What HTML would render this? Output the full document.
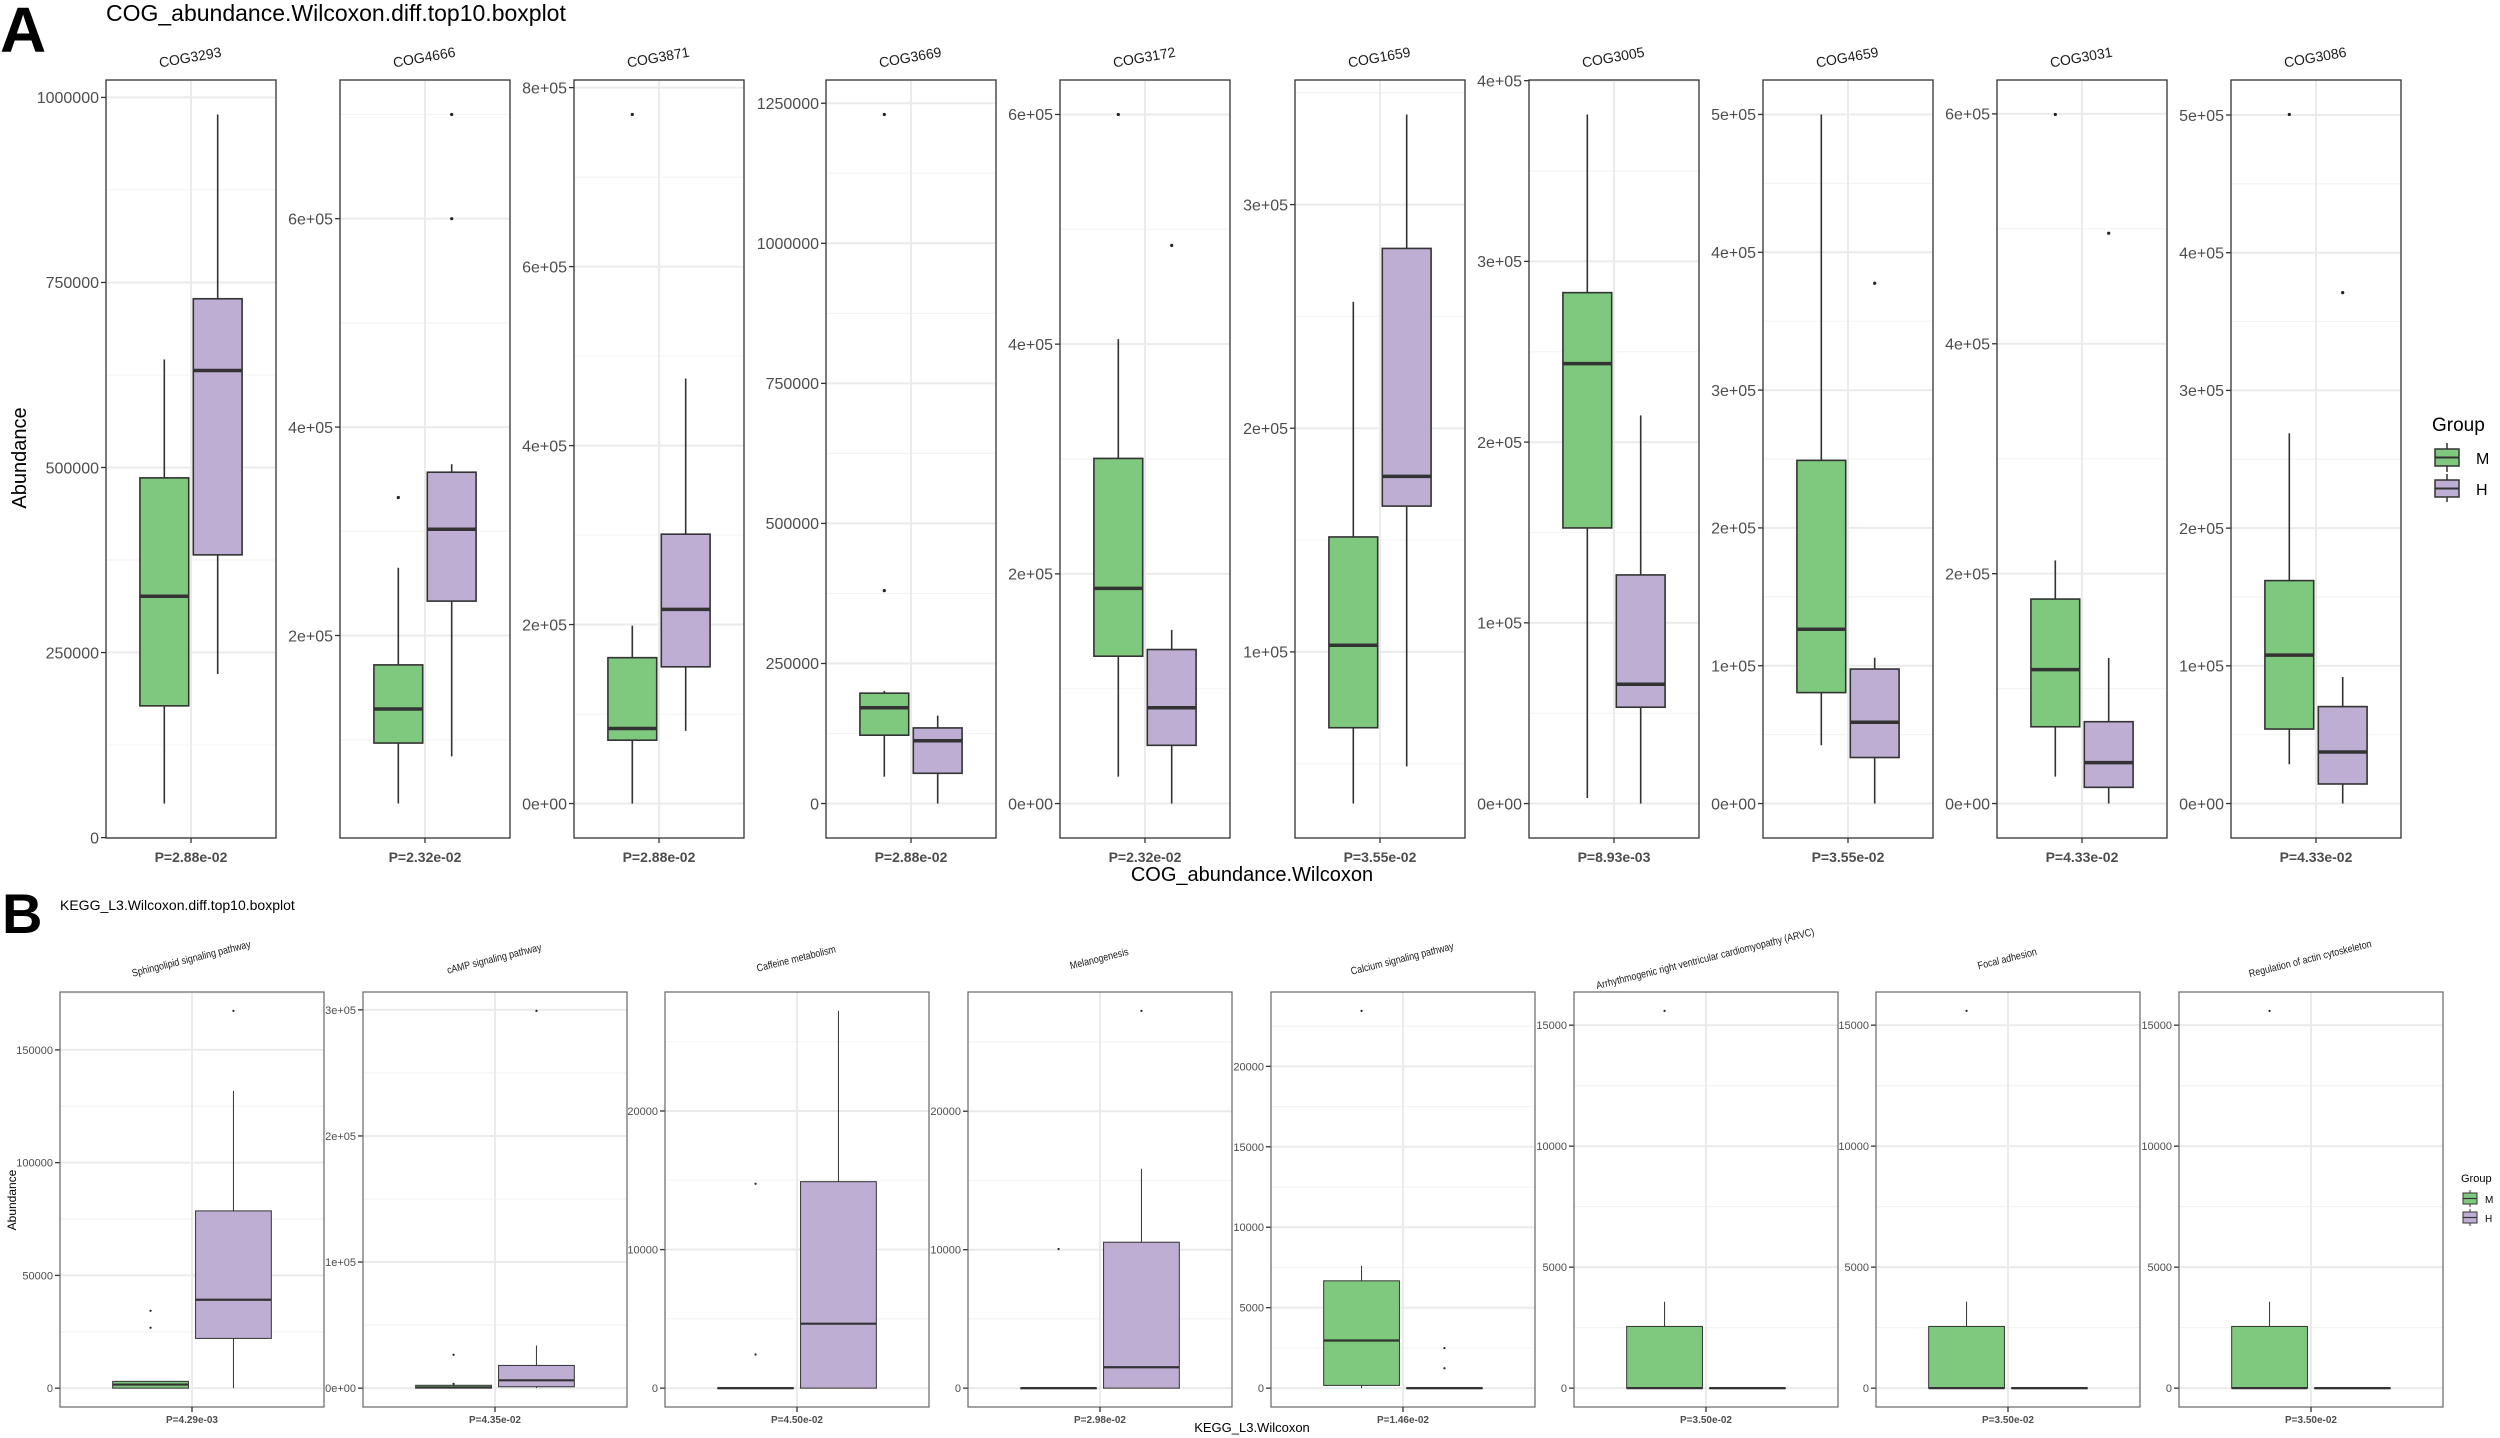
<!DOCTYPE html>
<html><head><meta charset="utf-8">
<style>
html,body{margin:0;padding:0;background:#fff;}
svg{display:block;font-family:"Liberation Sans",sans-serif;}
</style></head>
<body>
<svg id="chart" width="2500" height="1438" viewBox="0 0 2500 1438" xmlns="http://www.w3.org/2000/svg">
<rect width="2500" height="1438" fill="#fff"/>
<text x="0" y="52" font-size="64" font-weight="bold" fill="#000">A</text>
<text x="106" y="21" font-size="23" fill="#000">COG_abundance.Wilcoxon.diff.top10.boxplot</text>
<text transform="translate(26,458) rotate(-90)" text-anchor="middle" font-size="20" fill="#000">Abundance</text>
<text x="1252" y="881" text-anchor="middle" font-size="20" fill="#000">COG_abundance.Wilcoxon</text>
<text x="2" y="933" font-size="56" font-weight="bold" fill="#000">B</text>
<text x="60" y="910" font-size="14" fill="#000">KEGG_L3.Wilcoxon.diff.top10.boxplot</text>
<text transform="translate(16,1200) rotate(-90)" text-anchor="middle" font-size="12" fill="#000">Abundance</text>
<text x="1252" y="1432" text-anchor="middle" font-size="13" fill="#000">KEGG_L3.Wilcoxon</text>
<g>
<text x="2432" y="431" font-size="19" fill="#000">Group</text>
<g><line x1="2447" y1="443" x2="2447" y2="472" stroke="#333" stroke-width="1.5"/><rect x="2435" y="449" width="24" height="17" fill="#7fc97f" stroke="#333" stroke-width="1.5"/><line x1="2435" y1="457.5" x2="2459" y2="457.5" stroke="#333" stroke-width="2"/><text x="2476" y="464" font-size="16" fill="#000">M</text></g>
<g><line x1="2447" y1="474" x2="2447" y2="502" stroke="#333" stroke-width="1.5"/><rect x="2435" y="480" width="24" height="17" fill="#beaed4" stroke="#333" stroke-width="1.5"/><line x1="2435" y1="488.5" x2="2459" y2="488.5" stroke="#333" stroke-width="2"/><text x="2476" y="495" font-size="16" fill="#000">H</text></g>
</g>
<g>
<text x="2461" y="1182" font-size="11" fill="#000">Group</text>
<g><line x1="2470" y1="1190" x2="2470" y2="1207" stroke="#333"/><rect x="2463" y="1193" width="14" height="11" fill="#7fc97f" stroke="#333"/><line x1="2463" y1="1198.5" x2="2477" y2="1198.5" stroke="#333" stroke-width="1.2"/><text x="2485" y="1203" font-size="10" fill="#000">M</text></g>
<g><line x1="2470" y1="1209" x2="2470" y2="1226" stroke="#333"/><rect x="2463" y="1212" width="14" height="11" fill="#beaed4" stroke="#333"/><line x1="2463" y1="1217.5" x2="2477" y2="1217.5" stroke="#333" stroke-width="1.2"/><text x="2485" y="1222" font-size="10" fill="#000">H</text></g>
</g>
<g id="panelsA"></g>
<g id="panelsB"></g>
</svg>
<script>
// ---------- Panel A data (COG) ----------
const categoriesA = ["COG3293","COG4666","COG3871","COG3669","COG3172","COG1659","COG3005","COG4659","COG3031","COG3086"];
const pValuesA = ["P=2.88e-02","P=2.32e-02","P=2.88e-02","P=2.88e-02","P=2.32e-02","P=3.55e-02","P=8.93e-03","P=3.55e-02","P=4.33e-02","P=4.33e-02"];
// [lower whisker, Q1, median, Q3, upper whisker]
const statsA_M = [
 [46000,178000,326000,486000,646000],
 [38750,96800,129500,171800,265000],
 [0,70800,83900,163000,198700],
 [48000,122000,171000,197000,201000],
 [23400,128300,187300,300500,404400],
 [32200,66100,103000,151400,256500],
 [3100,152500,243400,282700,381300],
 [42300,80500,126500,249000,500000],
 [23400,66800,116500,177900,211500],
 [28500,54100,107800,161900,268900]];
const statsA_H = [
 [221000,382000,631000,728000,977000],
 [84000,233000,302000,356700,364400],
 [81200,152800,217000,301000,475000],
 [0,54000,112000,135000,157000],
 [0,50700,83400,134100,151200],
 [48800,165200,178500,280400,340300],
 [0,53300,66000,126500,214800],
 [0,33400,59000,97600,105800],
 [0,14100,35600,71200,126700],
 [0,14200,37400,70400,91900]];
const outliersA_M = [[],[332400],[770000],[1230000,380000],[600000],[],[],[],[599500],[500400]];
const outliersA_H = [[],[600000,700000],[],[],[486000],[],[],[377500],[496200],[371000]];
const ticksA = [
 [0,250000,500000,750000,1000000],
 [200000,400000,600000],
 [0,200000,400000,600000,800000],
 [0,250000,500000,750000,1000000,1250000],
 [0,200000,400000,600000],
 [100000,200000,300000],
 [0,100000,200000,300000,400000],
 [0,100000,200000,300000,400000,500000],
 [0,200000,400000,600000],
 [0,100000,200000,300000,400000,500000]];
const tickLabelsA = [
 ["0","250000","500000","750000","1000000"],
 ["2e+05","4e+05","6e+05"],
 ["0e+00","2e+05","4e+05","6e+05","8e+05"],
 ["0","250000","500000","750000","1000000","1250000"],
 ["0e+00","2e+05","4e+05","6e+05"],
 ["1e+05","2e+05","3e+05"],
 ["0e+00","1e+05","2e+05","3e+05","4e+05"],
 ["0e+00","1e+05","2e+05","3e+05","4e+05","5e+05"],
 ["0e+00","2e+05","4e+05","6e+05"],
 ["0e+00","1e+05","2e+05","3e+05","4e+05","5e+05"]];

// ---------- Panel B data (KEGG L3) ----------
const categoriesB = ["Sphingolipid signaling pathway","cAMP signaling pathway","Caffeine metabolism","Melanogenesis","Calcium signaling pathway","Arrhythmogenic right ventricular cardiomyopathy (ARVC)","Focal adhesion","Regulation of actin cytoskeleton"];
const pValuesB = ["P=4.29e-03","P=4.35e-02","P=4.50e-02","P=2.98e-02","P=1.46e-02","P=3.50e-02","P=3.50e-02","P=3.50e-02"];
const statsB_M = [
 [0,0,1575,3000,3000],
 [0,0,560,2250,2800],
 [0,0,0,0,0],
 [0,0,0,0,0],
 [0,170,2960,6670,7600],
 [0,0,0,2550,3570],
 [0,0,0,2550,3570],
 [0,0,0,2550,3570]];
const statsB_H = [
 [0,22050,39200,78600,131800],
 [0,1100,6200,18000,33800],
 [0,0,4650,14900,27225],
 [0,0,1510,10540,15840],
 [0,0,0,0,0],
 [0,0,0,0,0],
 [0,0,0,0,0],
 [0,0,0,0,0]];
const outliersB_M = [[34300,26800],[26500,3400],[14750,2425],[10050],[23450],[15590],[15590],[15590]];
const outliersB_H = [[167300],[299200],[],[27250],[2490,1235],[],[],[]];
const ticksB = [
 [0,50000,100000,150000],
 [0,100000,200000,300000],
 [0,10000,20000],
 [0,10000,20000],
 [0,5000,10000,15000,20000],
 [0,5000,10000,15000],
 [0,5000,10000,15000],
 [0,5000,10000,15000]];
const tickLabelsB = [
 ["0","50000","100000","150000"],
 ["0e+00","1e+05","2e+05","3e+05"],
 ["0","10000","20000"],
 ["0","10000","20000"],
 ["0","5000","10000","15000","20000"],
 ["0","5000","10000","15000"],
 ["0","5000","10000","15000"],
 ["0","5000","10000","15000"]];

// ---------- layout ----------
const layoutA = {lefts:[106,340,574,826,1060,1295,1529,1763,1997,2231], width:170, top:80, bottom:838,
  tickFont:16, stripFont:14, pFont:14, boxStroke:1.6, medStroke:3.5, whisk:1.6, dotR:1.6, stripY:62, stripAngle:-10, stripScale:1, pY:862, border:"#333", borderW:1.3};
const layoutB = {lefts:[60,363,665,968,1271,1574,1876,2179], width:264, top:992, bottom:1407,
  tickFont:11, stripFont:10.5, pFont:10, boxStroke:1, medStroke:2.2, whisk:1, dotR:1.1, stripY:962, stripAngle:-14, stripScale:0.85, pY:1423, border:"#666", borderW:1.2};

const NS = "http://www.w3.org/2000/svg";
function el(tag, attrs, parent){ const e=document.createElementNS(NS,tag); for(const k in attrs) e.setAttribute(k,attrs[k]); if(parent) parent.appendChild(e); return e; }

function drawFacet(parent, L, i, name, statsM, statsH, outM, outH, ticks, labels, pval, prefix){
  const x0=L.lefts[i], x1=x0+L.width, y0=L.top, y1=L.bottom;
  const allVals=[...statsM, ...statsH, ...outM, ...outH];
  let mn=Math.min(...allVals), mx=Math.max(...allVals);
  const pad=(mx-mn)*0.05; mn-=pad; mx+=pad;
  const yScale=v=> y1-(v-mn)/(mx-mn)*(y1-y0);
  const xScale=f=> x0+f*L.width;
  const g=el("g",{},parent);
  
  
  const step=ticks.length>1?ticks[1]-ticks[0]:1;
  for(let v=ticks[0]-step*2+step/2; v<mx; v+=step){
    if(v<=mn) continue;
    const gl=el("line",{x1:x0,x2:x1,y1:yScale(v),y2:yScale(v),stroke:"#f4f4f4","stroke-width":1.2},g);
    
    
  }
  ticks.forEach((v,k)=>{
    const y=yScale(v);
    const gl=el("line",{x1:x0,x2:x1,y1:y,y2:y,stroke:"#ebebeb","stroke-width":2},g);
    
    
    const tk=el("line",{x1:x0-5,x2:x0,y1:y,y2:y,stroke:"#333","stroke-width":1.3},g);
    
    
    const t=el("text",{x:x0-7,y:y+L.tickFont*0.36,"text-anchor":"end","font-size":L.tickFont,fill:"#4d4d4d"},g);
    t.textContent=labels[k];
    
    
  });
  const vg=el("line",{x1:xScale(0.5),x2:xScale(0.5),y1:y0,y2:y1,stroke:"#ebebeb","stroke-width":2},g);
  
  
  const groups=[[statsM,outM,0.343,"#7fc97f","m"],[statsH,outH,0.657,"#beaed4","h"]];
  groups.forEach(([s,o,c,fill,gname])=>{
    const cx=xScale(c), hw=0.1435*L.width;
    const wl=el("line",{x1:cx,x2:cx,y1:yScale(s[0]),y2:yScale(s[1]),stroke:"#333","stroke-width":L.whisk},g);
    
    
    const wu=el("line",{x1:cx,x2:cx,y1:yScale(s[3]),y2:yScale(s[4]),stroke:"#333","stroke-width":L.whisk},g);
    
    
    const r=el("rect",{x:cx-hw,y:yScale(s[3]),width:hw*2,height:Math.max(0.5,yScale(s[1])-yScale(s[3])),fill:fill,stroke:"#333","stroke-width":L.boxStroke},g);
    
    
    const md=el("line",{x1:cx-hw,x2:cx+hw,y1:yScale(s[2]),y2:yScale(s[2]),stroke:"#333","stroke-width":L.medStroke},g);
    
    
    o.forEach(v=>{
      const d=el("circle",{cx:cx,cy:yScale(v),r:L.dotR,fill:"#222"},g);
      
      
    });
  });
  const b=el("rect",{x:x0,y:y0,width:L.width,height:y1-y0,fill:"none",stroke:L.border,"stroke-width":L.borderW},g);
  
  
  const xt=el("line",{x1:xScale(0.5),x2:xScale(0.5),y1:y1,y2:y1+5,stroke:"#333","stroke-width":1.3},g);
  
  
  const pt=el("text",{x:xScale(0.5),y:L.pY,"text-anchor":"middle","font-size":L.pFont,"font-weight":"bold",fill:"#4d4d4d"},g);
  pt.textContent=pval;
  
  
  const st=el("text",{transform:"translate("+xScale(0.5)+","+L.stripY+") rotate("+L.stripAngle+") scale("+L.stripScale+",1)","text-anchor":"middle","font-size":L.stripFont,fill:"#1a1a1a"},g);
  st.textContent=name;
  
  
}

const gA=document.getElementById("panelsA");
categoriesA.forEach((n,i)=>drawFacet(gA,layoutA,i,n,statsA_M[i],statsA_H[i],outliersA_M[i],outliersA_H[i],ticksA[i],tickLabelsA[i],pValuesA[i],"cog"));
const gB=document.getElementById("panelsB");
categoriesB.forEach((n,i)=>drawFacet(gB,layoutB,i,n,statsB_M[i],statsB_H[i],outliersB_M[i],outliersB_H[i],ticksB[i],tickLabelsB[i],pValuesB[i],"kegg"));
</script>
</body></html>
